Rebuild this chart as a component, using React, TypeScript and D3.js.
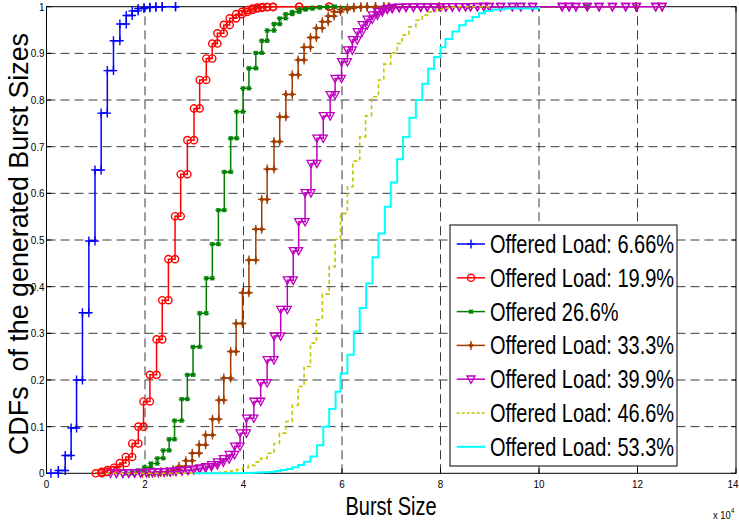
import React from 'react';
import * as d3 from 'd3';

const xTickValues = [0, 2, 4, 6, 8, 10, 12, 14];
const xTickLabels = ['0', '2', '4', '6', '8', '10', '12', '14'];
const yTickValues = [0, 0.1, 0.2, 0.3, 0.4, 0.5, 0.6, 0.7, 0.8, 0.9, 1];
const yTickLabels = ['0', '0.1', '0.2', '0.3', '0.4', '0.5', '0.6', '0.7', '0.8', '0.9', '1'];
const seriesNames = [
  'Offered Load: 6.66%',
  'Offered Load: 19.9%',
  'Offered 26.6%',
  'Offered Load: 33.3%',
  'Offered Load: 39.9%',
  'Offered Load: 46.6%',
  'Offered Load: 53.3%',
];

// Burst size (x 10^4) at each step, and the CDF level that starts there
const blueX = [0.09, 0.24, 0.38, 0.5, 0.61, 0.73, 0.86, 0.985, 1.11, 1.235, 1.36, 1.49, 1.62, 1.74, 1.86, 1.98, 2.1, 2.22, 2.35, 2.62];
const blueF = [0, 0.006, 0.038, 0.097, 0.2, 0.344, 0.498, 0.65, 0.772, 0.863, 0.927, 0.963, 0.981, 0.991, 0.996, 0.998, 0.999, 1, 1, 1];

const redX = [1.0, 1.12, 1.24, 1.37, 1.49, 1.61, 1.74, 1.865, 1.97, 2.1, 2.235, 2.35, 2.475, 2.61, 2.725, 2.86, 2.995, 3.11, 3.245, 3.365, 3.47, 3.6, 3.72, 3.85, 3.97, 4.08, 4.18, 4.28, 4.38, 4.48, 4.6, 5.13, 5.74];
const redF = [0, 0.003, 0.007, 0.012, 0.022, 0.035, 0.064, 0.1, 0.154, 0.211, 0.287, 0.371, 0.459, 0.551, 0.641, 0.714, 0.782, 0.843, 0.889, 0.921, 0.943, 0.961, 0.975, 0.984, 0.989, 0.993, 0.996, 0.998, 0.999, 0.9995, 0.9997, 1, 1];

const greenX = [1.62, 1.74, 1.86, 1.99, 2.12, 2.25, 2.37, 2.49, 2.6, 2.745, 2.86, 2.975, 3.11, 3.245, 3.367, 3.49, 3.61, 3.74, 3.86, 3.99, 4.11, 4.25, 4.37, 4.48, 4.62, 4.735, 4.855, 4.99, 5.13, 5.26, 5.4, 5.55, 5.7, 5.85, 10.98];
const greenF = [0, 0.002, 0.006, 0.013, 0.021, 0.032, 0.049, 0.073, 0.113, 0.159, 0.211, 0.271, 0.343, 0.418, 0.491, 0.564, 0.646, 0.718, 0.775, 0.825, 0.868, 0.901, 0.927, 0.949, 0.963, 0.975, 0.984, 0.989, 0.994, 0.996, 0.998, 0.999, 0.9995, 1, 1];

const brownX = [1.95, 2.08, 2.2, 2.32, 2.45, 2.57, 2.69, 2.83, 2.96, 3.1, 3.23, 3.37, 3.5, 3.6, 3.74, 3.85, 3.98, 4.11, 4.25, 4.37, 4.48, 4.62, 4.735, 4.86, 4.99, 5.11, 5.23, 5.36, 5.48, 5.6, 5.72, 5.84, 5.97, 6.11, 6.24, 6.38, 6.51, 6.68, 6.85, 6.95, 7.97, 11.97];
const brownF = [0, 0.001, 0.002, 0.003, 0.004, 0.008, 0.015, 0.027, 0.043, 0.061, 0.082, 0.116, 0.157, 0.204, 0.261, 0.321, 0.387, 0.457, 0.523, 0.587, 0.652, 0.711, 0.764, 0.812, 0.854, 0.886, 0.913, 0.934, 0.954, 0.968, 0.98, 0.989, 0.994, 0.997, 0.999, 0.9995, 1, 1, 1, 1, 1, 1];

const magentaX = [1.3, 1.42, 1.55, 1.67, 1.79, 1.91, 2.03, 2.15, 2.27, 2.39, 2.51, 2.63, 2.75, 2.87, 2.99, 3.11, 3.23, 3.35, 3.47, 3.59, 3.71, 3.82, 3.93, 4.06, 4.21, 4.35, 4.48, 4.62, 4.755, 4.89, 5.01, 5.12, 5.25, 5.37, 5.49, 5.62, 5.76, 5.86, 5.99, 6.11, 6.21, 6.31, 6.41, 6.51, 6.615, 6.72, 6.82, 6.92, 7.02, 7.16, 7.3, 7.45, 7.6, 7.73, 7.87, 8.0, 8.11, 8.24, 8.38, 8.51, 8.61, 8.75, 8.88, 8.99, 9.22, 9.46, 9.63, 9.87, 10.47, 10.61, 10.75, 10.98, 11.22, 11.49, 11.76, 11.98, 12.37, 12.5];
const magentaF = [0, 0, 0.0005, 0.001, 0.001, 0.0015, 0.002, 0.002, 0.003, 0.003, 0.004, 0.005, 0.006, 0.007, 0.009, 0.011, 0.014, 0.018, 0.024, 0.031, 0.04, 0.058, 0.086, 0.118, 0.154, 0.194, 0.243, 0.294, 0.351, 0.414, 0.477, 0.539, 0.601, 0.664, 0.718, 0.766, 0.811, 0.846, 0.882, 0.907, 0.929, 0.946, 0.961, 0.973, 0.982, 0.989, 0.994, 0.996, 0.998, 0.9985, 0.999, 0.999, 0.9992, 0.9994, 0.9995, 0.9996, 0.9997, 0.9998, 0.9998, 0.9999, 0.9999, 1, 1, 1, 1, 1, 1, 1, 1, 1, 1, 1, 1, 1, 1, 1, 1, 1];

const yellowX = [1.2, 1.5, 1.8, 2.1, 2.4, 2.7, 2.9, 3.02, 3.14, 3.26, 3.38, 3.5, 3.62, 3.74, 3.86, 3.98, 4.1, 4.23, 4.35, 4.48, 4.62, 4.73, 4.86, 4.99, 5.11, 5.23, 5.36, 5.48, 5.6, 5.74, 5.86, 5.97, 6.11, 6.22, 6.36, 6.48, 6.6, 6.74, 6.85, 6.99, 7.12, 7.22, 7.36, 7.5, 7.63, 7.77, 7.9, 8.03, 8.16, 8.3, 9.0];
const yellowF = [0, 0, 0, 0, 0, 0, 0, 0, 0.0005, 0.001, 0.001, 0.002, 0.003, 0.005, 0.008, 0.012, 0.017, 0.024, 0.032, 0.043, 0.064, 0.086, 0.111, 0.146, 0.186, 0.229, 0.279, 0.329, 0.384, 0.443, 0.501, 0.557, 0.614, 0.669, 0.721, 0.766, 0.807, 0.843, 0.877, 0.901, 0.921, 0.939, 0.957, 0.971, 0.982, 0.989, 0.994, 0.997, 0.999, 1, 1];

const cyanX = [3.0, 3.6, 4.0, 4.15, 4.28, 4.4, 4.52, 4.64, 4.76, 4.88, 4.99, 5.11, 5.23, 5.36, 5.49, 5.62, 5.74, 5.87, 5.97, 6.11, 6.24, 6.36, 6.49, 6.62, 6.74, 6.87, 6.99, 7.12, 7.24, 7.37, 7.5, 7.63, 7.75, 7.87, 8.0, 8.1, 8.24, 8.38, 8.51, 8.65, 8.78, 8.9, 9.05, 9.3, 10.0];
const cyanF = [0, 0, 0.0005, 0.001, 0.0015, 0.002, 0.003, 0.005, 0.007, 0.009, 0.013, 0.018, 0.025, 0.036, 0.06, 0.1, 0.138, 0.175, 0.214, 0.254, 0.304, 0.354, 0.407, 0.463, 0.514, 0.571, 0.623, 0.673, 0.721, 0.762, 0.8, 0.835, 0.867, 0.892, 0.913, 0.931, 0.947, 0.96, 0.97, 0.978, 0.986, 0.991, 0.994, 0.996, 1];

type Marker = 'plus' | 'circle' | 'star' | 'diamond' | 'tri' | 'none';
interface Series { xs: number[]; fs: number[]; color: string; marker: Marker; dash?: string; width: number; }

const series: Series[] = [
  { xs: blueX, fs: blueF, color: '#0000ff', marker: 'plus', width: 1.5 },
  { xs: redX, fs: redF, color: '#ff0000', marker: 'circle', width: 1.5 },
  { xs: greenX, fs: greenF, color: '#008000', marker: 'star', width: 1.5 },
  { xs: brownX, fs: brownF, color: '#a33c00', marker: 'diamond', width: 1.5 },
  { xs: magentaX, fs: magentaF, color: '#c000c0', marker: 'tri', width: 1.5 },
  { xs: yellowX, fs: yellowF, color: '#c4c400', marker: 'none', dash: '4 3', width: 1.6 },
  { xs: cyanX, fs: cyanF, color: '#00ffff', marker: 'none', width: 2 },
];

const FONT = '"Liberation Sans", Arial, Helvetica, sans-serif';

function markerShape(m: Marker, color: string, key: string, cx: number, cy: number) {
  const t = `translate(${cx},${cy})`;
  switch (m) {
    case 'plus':
      return <path key={key} transform={t} d="M-3.8,0H3.8M0,-4.5V4.5" stroke={color} strokeWidth={1.4} fill="none" />;
    case 'circle':
      return <circle key={key} cx={cx} cy={cy} r={3.6} stroke={color} strokeWidth={1.4} fill="none" />;
    case 'star':
      return <path key={key} transform={t} d="M-3,0H3M0,-2.2V2.2M-2,-2L2,2M-2,2L2,-2" stroke={color} strokeWidth={1.2} fill="none" />;
    case 'diamond':
      return (
        <g key={key} transform={t}>
          <path d="M-3.8,0H3.8M0,-4.5V4.5" stroke={color} strokeWidth={1.3} fill="none" />
          <path d="M0,-2.6L2.2,0L0,2.6L-2.2,0Z" fill={color} stroke={color} strokeWidth={0.6} />
        </g>
      );
    case 'tri':
      return <path key={key} transform={t} d="M-4,-3.2L4,-3.2L0,4.2Z" stroke={color} strokeWidth={1.3} fill="none" />;
    default:
      return null;
  }
}

export default function App() {
  const x = d3.scaleLinear().domain([0, 14]).range([46.5, 736]);
  const y = d3.scaleLinear().domain([0, 1]).range([473.3, 6.7]);
  const line = d3
    .line<[number, number]>()
    .x((d) => x(d[0]))
    .y((d) => y(d[1]))
    .curve(d3.curveStepAfter);

  const legendTop = 225;
  const legendRowY = (i: number) => 244 + i * 33.8;

  return (
    <svg width={739} height={522} style={{ position: 'absolute', left: 0, top: 0, background: '#fff' }} fontFamily={FONT}>
      <rect x={0} y={0} width={739} height={522} fill="#fff" />
      {/* grid */}
      <g stroke="#3a3a3a" strokeWidth={1} strokeDasharray="9 5">
        {xTickValues.slice(1, -1).map((v) => (
          <line key={'gx' + v} x1={x(v)} x2={x(v)} y1={y(0)} y2={y(1)} />
        ))}
        {yTickValues.slice(1, -1).map((v) => (
          <line key={'gy' + v} x1={x(0)} x2={x(14)} y1={y(v)} y2={y(v)} />
        ))}
      </g>
      {/* box and ticks */}
      <rect x={x(0)} y={y(1)} width={x(14) - x(0)} height={y(0) - y(1)} fill="none" stroke="#000" strokeWidth={1} />
      <g stroke="#000" strokeWidth={1}>
        {xTickValues.map((v) => (
          <g key={'tx' + v}>
            <line x1={x(v)} x2={x(v)} y1={y(0)} y2={y(0) - 5} />
            <line x1={x(v)} x2={x(v)} y1={y(1)} y2={y(1) + 5} />
          </g>
        ))}
        {yTickValues.map((v) => (
          <g key={'ty' + v}>
            <line x1={x(0)} x2={x(0) + 5} y1={y(v)} y2={y(v)} />
            <line x1={x(14)} x2={x(14) - 5} y1={y(v)} y2={y(v)} />
          </g>
        ))}
      </g>
      {/* tick labels */}
      <g fontSize={11} fill="#000">
        {yTickValues.map((v, i) => (
          <text key={'ly' + v} textAnchor="end" transform={`translate(44.5,${y(v) + 4}) scale(0.9,1)`}>
            {yTickLabels[i]}
          </text>
        ))}
        {xTickValues.map((v, i) => {
          const last = i === xTickValues.length - 1;
          return (
            <text
              key={'lx' + v}
              textAnchor={last ? 'end' : 'middle'}
              transform={`translate(${last ? 738.5 : x(v)},${487.5}) scale(0.9,1)`}
            >
              {xTickLabels[i]}
            </text>
          );
        })}
      </g>
      <g fill="#000">
        <text transform="translate(713,519) scale(0.85,1)" fontSize={11}>x 10</text>
        <text transform="translate(731,513) scale(0.85,1)" fontSize={7}>4</text>
      </g>
      {/* curves */}
      {series.map((s, si) => {
        const pts: [number, number][] = s.xs.map((xv, i) => [xv, s.fs[i]]);
        const marks: [number, number][] = [];
        if (s.marker !== 'none') {
          for (let i = 0; i < pts.length; i++) {
            marks.push(pts[i]);
            if (i < pts.length - 1) marks.push([pts[i + 1][0], pts[i][1]]);
          }
        }
        return (
          <g key={'s' + si}>
            <path d={line(pts) || ''} fill="none" stroke={s.color} strokeWidth={s.width} strokeDasharray={s.dash} />
            {marks.map((m, mi) => markerShape(s.marker, s.color, `m${si}-${mi}`, x(m[0]), y(m[1])))}
          </g>
        );
      })}
      {/* axis labels */}
      <text transform="translate(391,515) scale(0.8,1)" textAnchor="middle" fontSize={25} fill="#000">
        Burst Size
      </text>
      <text
        transform="translate(28,244) rotate(-90)"
        textAnchor="middle"
        fontSize={27}
        fill="#000"
        textLength={422}
        lengthAdjust="spacingAndGlyphs"
        style={{ whiteSpace: 'pre' }}
      >
        {'CDFs  of the generated Burst Sizes'}
      </text>
      {/* legend */}
      <rect x={450} y={legendTop} width={227} height={241} fill="#fff" stroke="#000" strokeWidth={1} />
      {series.map((s, i) => {
        const cy = legendRowY(i);
        return (
          <g key={'lg' + i}>
            <line x1={456.7} x2={485} y1={cy} y2={cy} stroke={s.color} strokeWidth={s.width} strokeDasharray={s.dash ? '3 2' : undefined} />
            {markerShape(s.marker, s.color, 'lm' + i, 471, cy)}
            <text transform={`translate(490,${cy + 9}) scale(0.8,1)`} fontSize={25} fill="#000">
              {seriesNames[i]}
            </text>
          </g>
        );
      })}
    </svg>
  );
}
